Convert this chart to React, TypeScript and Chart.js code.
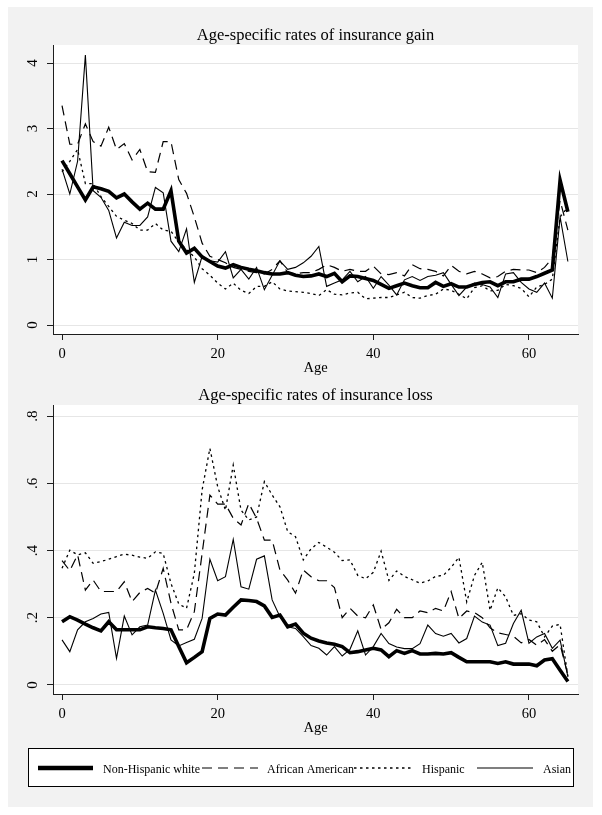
import React, { useEffect, useRef } from 'react';
import { Chart, registerables } from 'chart.js';

Chart.register(...registerables);

// ---------------- data ----------------
const AGES = [
  0, 1, 2, 3, 4, 5, 6, 7, 8, 9, 10, 11, 12, 13, 14, 15, 16, 17, 18, 19, 20, 21,
  22, 23, 24, 25, 26, 27, 28, 29, 30, 31, 32, 33, 34, 35, 36, 37, 38, 39, 40,
  41, 42, 43, 44, 45, 46, 47, 48, 49, 50, 51, 52, 53, 54, 55, 56, 57, 58, 59,
  60, 61, 62, 63, 64, 65,
];

const SERIES_NAMES = ['Non-Hispanic white', 'African American', 'Hispanic', 'Asian'];

// Insurance gain
const GAIN_WHITE = [
  2.51, 2.31, 2.11, 1.91, 2.11, 2.08, 2.04, 1.94, 2.0, 1.88, 1.77, 1.86, 1.77, 1.77, 2.05, 1.28,
  1.1, 1.17, 1.04, 0.97, 0.9, 0.87, 0.92, 0.88, 0.85, 0.83, 0.8, 0.78, 0.78, 0.8, 0.76, 0.74,
  0.75, 0.78, 0.74, 0.79, 0.66, 0.75, 0.74, 0.71, 0.68, 0.62, 0.56, 0.6, 0.64, 0.6, 0.57, 0.57,
  0.65, 0.59, 0.63, 0.58, 0.58, 0.62, 0.65, 0.66, 0.6, 0.66, 0.66, 0.7, 0.7, 0.74, 0.79, 0.84,
  2.21, 1.73,
];
const GAIN_AA = [
  3.35, 2.76, 2.76, 3.07, 2.8, 2.73, 3.02, 2.68, 2.77, 2.52, 2.68, 2.34, 2.33, 2.8, 2.8, 2.22,
  2.01, 1.65, 1.25, 1.05, 1.0, 0.95, 0.88, 0.85, 0.82, 0.8, 0.78, 0.85, 0.98, 0.8, 0.78, 0.8,
  0.8, 0.85, 0.92, 0.88, 0.82, 0.85, 0.82, 0.82, 0.9, 0.78, 0.77, 0.8, 0.75, 0.92, 0.86, 0.85,
  0.82, 0.75, 0.91, 0.82, 0.78, 0.82, 0.78, 0.72, 0.74, 0.82, 0.85, 0.84, 0.84, 0.8, 0.88, 1.02,
  1.9, 1.45,
];
const GAIN_HISP = [
  2.34, 2.5, 2.68, 2.16, 2.16, 1.96, 1.81, 1.66, 1.6, 1.55, 1.45, 1.45, 1.55, 1.45, 1.43, 1.27,
  1.15, 1.04, 0.86, 0.76, 0.64, 0.55, 0.64, 0.53, 0.48, 0.59, 0.59, 0.66, 0.55, 0.52, 0.51, 0.5,
  0.48, 0.45, 0.54, 0.47, 0.46, 0.49, 0.5, 0.4, 0.41, 0.42, 0.42, 0.46, 0.5, 0.42, 0.41, 0.45,
  0.47, 0.55, 0.53, 0.47, 0.4, 0.57, 0.6, 0.52, 0.53, 0.62, 0.6, 0.56, 0.43, 0.58, 0.62, 0.7,
  1.65, 1.8,
];
const GAIN_ASIAN = [
  2.38, 2.0, 2.5, 4.12, 2.05, 1.95, 1.75, 1.33, 1.57, 1.52, 1.52, 1.65, 2.1, 2.02, 1.28, 1.12,
  1.47, 0.65, 1.05, 0.98, 0.96, 1.12, 0.72, 0.85, 0.7, 0.88, 0.54, 0.76, 0.98, 0.85, 0.88, 0.95,
  1.05, 1.2, 0.59, 0.64, 0.69, 0.82, 0.66, 0.74, 0.56, 0.74, 0.61, 0.46, 0.69, 0.74, 0.68, 0.74,
  0.76, 0.8, 0.62, 0.45, 0.58, 0.64, 0.62, 0.58, 0.42, 0.78, 0.8, 0.65, 0.55, 0.5, 0.64, 0.41,
  1.65, 0.97,
];

// Insurance loss
const LOSS_WHITE = [
  0.188, 0.203, 0.193, 0.181, 0.17, 0.161, 0.188, 0.164, 0.164, 0.164, 0.164, 0.173, 0.17,
  0.168, 0.164, 0.114, 0.066, 0.082, 0.099, 0.198, 0.211, 0.208, 0.231, 0.253, 0.251, 0.248,
  0.235, 0.201, 0.208, 0.173, 0.181, 0.154, 0.139, 0.131, 0.125, 0.121, 0.114, 0.096, 0.099,
  0.104, 0.109, 0.104, 0.084, 0.102, 0.094, 0.102, 0.092, 0.092, 0.094, 0.092, 0.096, 0.082,
  0.069, 0.069, 0.069, 0.069, 0.064, 0.069, 0.062, 0.062, 0.062, 0.057, 0.074, 0.078, 0.044,
  0.01,
];
const LOSS_AA = [
  0.37, 0.34, 0.387, 0.282, 0.312, 0.278, 0.278, 0.278, 0.307, 0.248, 0.275, 0.287, 0.273,
  0.347, 0.243, 0.164, 0.164, 0.218, 0.391, 0.565, 0.538, 0.538, 0.496, 0.476, 0.54, 0.496,
  0.431, 0.431, 0.342, 0.312, 0.273, 0.342, 0.322, 0.31, 0.31, 0.29, 0.2, 0.228, 0.205, 0.2,
  0.238, 0.165, 0.185, 0.225, 0.2, 0.2, 0.22, 0.215, 0.228, 0.22, 0.278, 0.198, 0.22, 0.215,
  0.2, 0.17, 0.155, 0.15, 0.145, 0.125, 0.135, 0.118, 0.135, 0.1, 0.12, 0.03,
];
const LOSS_HISP = [
  0.347, 0.401, 0.387, 0.393, 0.362, 0.367, 0.374, 0.382, 0.389, 0.386, 0.38, 0.377, 0.396,
  0.391, 0.302, 0.241, 0.228, 0.332, 0.58, 0.704, 0.59, 0.52, 0.654, 0.52, 0.491, 0.5, 0.605,
  0.565, 0.53, 0.456, 0.441, 0.372, 0.405, 0.424, 0.41, 0.395, 0.37, 0.372, 0.326, 0.316,
  0.335, 0.398, 0.311, 0.339, 0.323, 0.313, 0.303, 0.309, 0.323, 0.326, 0.35, 0.38, 0.247,
  0.326, 0.365, 0.222, 0.289, 0.262, 0.207, 0.212, 0.193, 0.188, 0.143, 0.175, 0.18, 0.025,
];
const LOSS_ASIAN = [
  0.134, 0.099, 0.164, 0.188, 0.198, 0.211, 0.216, 0.079, 0.205, 0.149, 0.173, 0.178, 0.282,
  0.213, 0.134, 0.116, 0.126, 0.136, 0.198, 0.374, 0.31, 0.322, 0.433, 0.292, 0.285, 0.374,
  0.384, 0.253, 0.203, 0.173, 0.168, 0.144, 0.117, 0.109, 0.089, 0.114, 0.086, 0.106, 0.161,
  0.089, 0.114, 0.153, 0.123, 0.113, 0.108, 0.108, 0.123, 0.178, 0.153, 0.145, 0.153, 0.125,
  0.138, 0.205, 0.187, 0.178, 0.117, 0.124, 0.183, 0.222, 0.124, 0.143, 0.153, 0.109, 0.133,
  0.025,
];

const X_TICKS = [0, 20, 40, 60];
const GAIN_TICKS = [0, 1, 2, 3, 4];
const GAIN_TICK_LABELS = ['0', '1', '2', '3', '4'];
const LOSS_TICKS = [0, 0.2, 0.4, 0.6, 0.8];
const LOSS_TICK_LABELS = ['0', '.2', '.4', '.6', '.8'];

const GAIN_TITLE = 'Age-specific rates of insurance gain';
const LOSS_TITLE = 'Age-specific rates of insurance loss';
const X_TITLE = 'Age';

// ---------------- style ----------------
const FONT = "'Liberation Serif', 'Times New Roman', serif";
const BG = '#f2f2f2';
const AXIS = '#1e1e1e';
const GRID = '#e6e6e6';

const STYLES = [
  { width: 3.6, dash: [] as number[] },
  { width: 1.2, dash: [10, 6] },
  { width: 1.3, dash: [2.5, 3.5] },
  { width: 1.1, dash: [] as number[] },
];

function makeDatasets(series: number[][]) {
  return series.map((vals, i) => ({
    label: SERIES_NAMES[i],
    data: vals.map((v, j) => ({ x: AGES[j], y: v })),
    borderColor: '#000',
    backgroundColor: '#000',
    borderWidth: STYLES[i].width,
    borderDash: STYLES[i].dash,
    pointRadius: 0,
    pointHoverRadius: 0,
    tension: 0,
    fill: false,
  }));
}

type PanelOpts = {
  series: number[][];
  yMin: number;
  yMax: number;
  yTicks: number[];
  yLabels: string[];
  title: string;
  titleBaseline: number;
  paddingTop: number;
  paddingBottom: number;
  legend: boolean;
};

function drawLegend(ctx: CanvasRenderingContext2D) {
  const boxX = 20.5, boxY = 363.5, boxW = 545, boxH = 38;
  ctx.save();
  ctx.fillStyle = '#fff';
  ctx.fillRect(boxX, boxY, boxW, boxH);
  ctx.strokeStyle = '#000';
  ctx.lineWidth = 1;
  ctx.setLineDash([]);
  ctx.strokeRect(boxX, boxY, boxW, boxH);
  const lineY = 383;
  const textY = 388;
  const keys = [
    { x0: 30, x1: 85, tx: 95 },
    { x0: 194, x1: 250, tx: 259 },
    { x0: 346, x1: 404, tx: 414 },
    { x0: 469, x1: 525, tx: 535 },
  ];
  ctx.font = `12px ${FONT}`;
  ctx.textBaseline = 'alphabetic';
  ctx.textAlign = 'left';
  keys.forEach((k, i) => {
    ctx.beginPath();
    ctx.strokeStyle = '#000';
    ctx.lineWidth = i === 0 ? 4.5 : STYLES[i].width;
    ctx.setLineDash(STYLES[i].dash);
    ctx.moveTo(k.x0, lineY);
    ctx.lineTo(k.x1, lineY);
    ctx.stroke();
    ctx.setLineDash([]);
    ctx.fillStyle = '#000';
    ctx.fillText(SERIES_NAMES[i], k.tx, textY);
  });
  ctx.restore();
}

function makeConfig(p: PanelOpts): any {
  const decor = {
    id: 'panelDecor',
    beforeDraw(chart: any) {
      const { ctx, width, height, chartArea: a } = chart;
      ctx.save();
      ctx.fillStyle = BG;
      ctx.fillRect(0, 0, width, height);
      ctx.fillStyle = '#fff';
      ctx.fillRect(a.left, a.top, a.right - a.left, a.bottom - a.top);
      ctx.restore();
    },
    afterDraw(chart: any) {
      const { ctx, chartArea: a } = chart;
      ctx.save();
      ctx.fillStyle = '#000';
      ctx.font = `16.5px ${FONT}`;
      ctx.textAlign = 'center';
      ctx.textBaseline = 'alphabetic';
      ctx.fillText(p.title, (a.left + a.right) / 2, p.titleBaseline);
      const ys = chart.scales.y;
      ctx.font = `15px ${FONT}`;
      p.yTicks.forEach((v, i) => {
        const py = ys.getPixelForValue(v);
        ctx.save();
        ctx.translate(29, py);
        ctx.rotate(-Math.PI / 2);
        ctx.textAlign = 'center';
        ctx.textBaseline = 'alphabetic';
        ctx.fillText(p.yLabels[i], 0, 0);
        ctx.restore();
      });
      ctx.restore();
      if (p.legend) drawLegend(ctx);
    },
  };

  return {
    type: 'line',
    data: { datasets: makeDatasets(p.series) },
    options: {
      animation: false,
      responsive: false,
      maintainAspectRatio: false,
      devicePixelRatio: 1,
      events: [],
      layout: { padding: { top: p.paddingTop, right: 15, bottom: p.paddingBottom, left: 0 } },
      plugins: {
        legend: { display: false },
        title: { display: false },
        tooltip: { enabled: false },
      },
      scales: {
        x: {
          type: 'linear',
          min: -1.16,
          max: 66.3,
          afterBuildTicks: (s: any) => {
            s.ticks = X_TICKS.map((v) => ({ value: v }));
          },
          afterFit: (s: any) => {
            s.height = 51;
          },
          ticks: {
            font: { family: FONT, size: 14.5 },
            color: '#000',
            padding: 5,
            maxRotation: 0,
            autoSkip: false,
            callback: (v: any) => String(v),
          },
          grid: {
            drawOnChartArea: false,
            drawTicks: true,
            tickLength: 6,
            tickColor: AXIS,
            tickWidth: 1,
          },
          border: { display: true, color: AXIS, width: 1 },
          title: {
            display: true,
            text: X_TITLE,
            color: '#000',
            font: { family: FONT, size: 14.5 },
            padding: { top: 0, bottom: 8 },
          },
        },
        y: {
          type: 'linear',
          min: p.yMin,
          max: p.yMax,
          afterBuildTicks: (s: any) => {
            s.ticks = p.yTicks.map((v) => ({ value: v }));
          },
          afterFit: (s: any) => {
            s.width = 45;
          },
          ticks: { display: false },
          grid: {
            color: GRID,
            lineWidth: 1,
            drawTicks: true,
            tickLength: 6,
            tickColor: AXIS,
            tickWidth: 1,
          },
          border: { display: true, color: AXIS, width: 1 },
        },
      },
    },
    plugins: [decor],
  };
}

function Panel(props: { opts: PanelOpts; top: number; height: number }) {
  const ref = useRef<HTMLCanvasElement | null>(null);
  useEffect(() => {
    if (!ref.current) return;
    const chart = new Chart(ref.current, makeConfig(props.opts));
    return () => chart.destroy();
  }, []);
  return (
    <canvas
      ref={ref}
      width={585}
      height={props.height}
      style={{ position: 'absolute', left: 8, top: props.top, width: 585, height: props.height, display: 'block' }}
    />
  );
}

export default function App() {
  const gain: PanelOpts = {
    series: [GAIN_WHITE, GAIN_AA, GAIN_HISP, GAIN_ASIAN],
    yMin: -0.137,
    yMax: 4.275,
    yTicks: GAIN_TICKS,
    yLabels: GAIN_TICK_LABELS,
    title: GAIN_TITLE,
    titleBaseline: 32.5,
    paddingTop: 38,
    paddingBottom: 0,
    legend: false,
  };
  const loss: PanelOpts = {
    series: [LOSS_WHITE, LOSS_AA, LOSS_HISP, LOSS_ASIAN],
    yMin: -0.027,
    yMax: 0.833,
    yTicks: LOSS_TICKS,
    yLabels: LOSS_TICK_LABELS,
    title: LOSS_TITLE,
    titleBaseline: 14.5,
    paddingTop: 20,
    paddingBottom: 62,
    legend: true,
  };
  return (
    <div>
      <div style={{ position: 'absolute', left: 8, top: 7, width: 585, height: 800, background: BG }} />
      <Panel opts={gain} top={7} height={378} />
      <Panel opts={loss} top={385} height={422} />
    </div>
  );
}
